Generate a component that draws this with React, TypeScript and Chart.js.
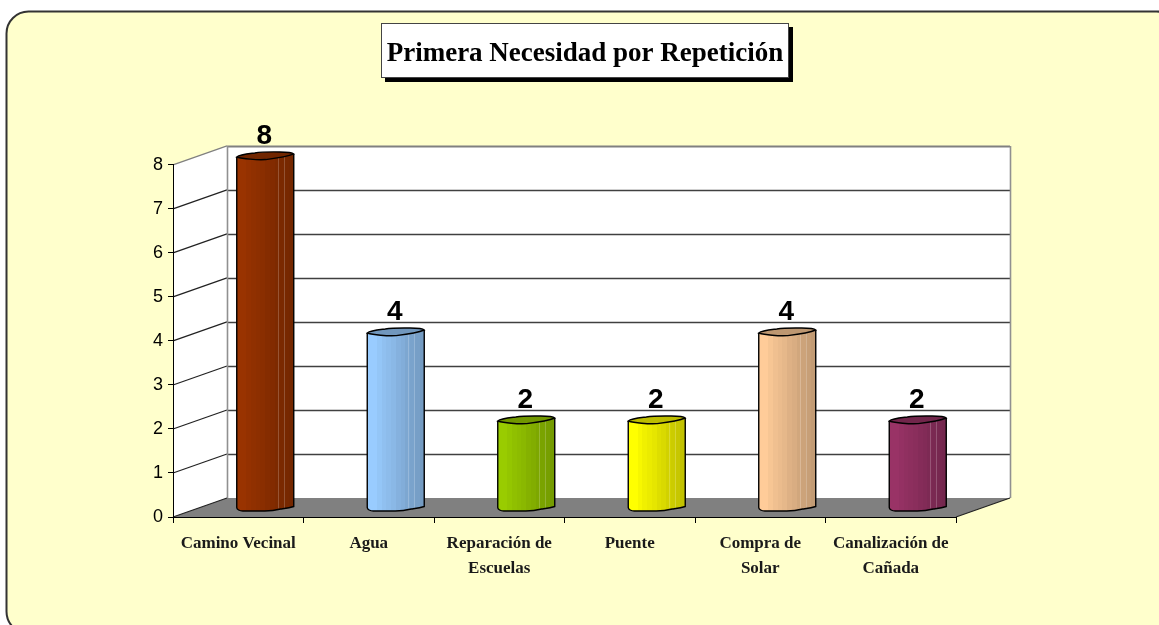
import React, { useEffect, useRef } from "react";
import { Chart, registerables } from "chart.js";

Chart.register(...registerables);

const categories: (string | string[])[] = [
  "Camino Vecinal",
  "Agua",
  ["Reparación de", "Escuelas"],
  "Puente",
  ["Compra de", "Solar"],
  ["Canalización de", "Cañada"],
];
const values = [8, 4, 2, 2, 4, 2];
const barColors = ["#993300", "#99ccff", "#99cc00", "#ffff00", "#ffcc99", "#993366"];
const titleText = "Primera Necesidad por Repetición";
const SERIF = '"Liberation Serif", serif';
const SANS = '"Liberation Sans", Arial, sans-serif';

const DEPTH_X = 54;
const DEPTH_Y = 19;
const BAR_DX = 27;
const BAR_DY = 7;

function shade(hex: string, f: number) {
  const n = parseInt(hex.slice(1), 16);
  const r = Math.round(((n >> 16) & 255) * f);
  const g = Math.round(((n >> 8) & 255) * f);
  const b = Math.round((n & 255) * f);
  return `rgb(${r},${g},${b})`;
}

const backdrop = {
  id: "backdrop",
  beforeDraw(chart: any) {
    const { ctx, chartArea: a, scales } = chart;
    const y = scales.y;
    ctx.save();
    // panel
    ctx.fillStyle = "#ffffcc";
    ctx.strokeStyle = "#333333";
    ctx.lineWidth = 2;
    ctx.beginPath();
    ctx.roundRect(6.5, 11.5, 1172, 622, 22);
    ctx.fill();
    ctx.stroke();
    // title box
    ctx.fillStyle = "#000";
    ctx.fillRect(385, 27, 408, 55);
    ctx.fillStyle = "#fff";
    ctx.strokeStyle = "#444";
    ctx.lineWidth = 1;
    ctx.fillRect(381, 23, 408, 55);
    ctx.strokeRect(381.5, 23.5, 407, 54);
    // walls
    const L = a.left, R = a.right, T = a.top, B = a.bottom;
    ctx.fillStyle = "#fff";
    ctx.beginPath();
    ctx.moveTo(L, T);
    ctx.lineTo(L + DEPTH_X, T - DEPTH_Y);
    ctx.lineTo(R + DEPTH_X, T - DEPTH_Y);
    ctx.lineTo(R + DEPTH_X, B - DEPTH_Y);
    ctx.lineTo(L, B);
    ctx.closePath();
    ctx.fill();
    // floor
    ctx.fillStyle = "#808080";
    ctx.beginPath();
    ctx.moveTo(L, B);
    ctx.lineTo(L + DEPTH_X, B - DEPTH_Y);
    ctx.lineTo(R + DEPTH_X, B - DEPTH_Y);
    ctx.lineTo(R, B);
    ctx.closePath();
    ctx.fill();
    // gridlines
    y.ticks.forEach((t: any, i: number) => {
      const py = y.getPixelForValue(t.value);
      const isTop = i === y.ticks.length - 1;
      const isZero = i === 0;
      if (!isZero) {
        ctx.lineWidth = 1.3;
        ctx.strokeStyle = isTop ? "#808080" : "#222";
        ctx.beginPath();
        ctx.moveTo(L, py);
        ctx.lineTo(L + DEPTH_X, py - DEPTH_Y);
        ctx.stroke();
        ctx.lineWidth = isTop ? 2 : 1.4;
        ctx.strokeStyle = isTop ? "#808080" : "#404040";
        ctx.beginPath();
        ctx.moveTo(L + DEPTH_X, py - DEPTH_Y + 0.5);
        ctx.lineTo(R + DEPTH_X, py - DEPTH_Y + 0.5);
        ctx.stroke();
      }
    });
    // wall edges
    ctx.strokeStyle = "#909090";
    ctx.lineWidth = 1.6;
    ctx.beginPath();
    ctx.moveTo(L + DEPTH_X + 0.5, T - DEPTH_Y);
    ctx.lineTo(L + DEPTH_X + 0.5, B - DEPTH_Y);
    ctx.moveTo(R + DEPTH_X + 0.5, T - DEPTH_Y);
    ctx.lineTo(R + DEPTH_X + 0.5, B - DEPTH_Y);
    ctx.stroke();
    ctx.strokeStyle = "#222";
    ctx.lineWidth = 1.2;
    ctx.beginPath();
    ctx.moveTo(L, B);
    ctx.lineTo(L + DEPTH_X, B - DEPTH_Y);
    ctx.moveTo(R, B);
    ctx.lineTo(R + DEPTH_X, B - DEPTH_Y);
    ctx.stroke();
    ctx.restore();
  },
};

const bands = [1, 1, 0.97, 0.94, 0.92, 0.9, 0.87, 0.85, 0.82, 0.8, 0.78, 0.76];

const cylinders = {
  id: "cylinders",
  beforeDatasetDraw(chart: any, args: any) {
    const { ctx } = chart;
    const meta = args.meta;
    ctx.save();
    meta.data.forEach((el: any, i: number) => {
      const w = el.width;
      const left = el.x - w / 2 + BAR_DX;
      const top = el.y - BAR_DY - 1;
      const bot = el.base - BAR_DY;
      const base = el.options.backgroundColor;
      const sx = w / 57;
      const X = (v: number) => left + v * sx;

      const grad = ctx.createLinearGradient(left, 0, left + w, 0);
      bands.forEach((f, k) => {
        grad.addColorStop(k / bands.length, shade(base, f));
        grad.addColorStop((k + 1) / bands.length, shade(base, f));
      });

      // body
      ctx.beginPath();
      ctx.moveTo(X(0), top);
      ctx.lineTo(X(57), top - 3);
      ctx.lineTo(X(57), bot - 3);
      ctx.bezierCurveTo(X(52), bot - 1.2, X(48), bot - 1, X(44), bot - 0.5);
      ctx.bezierCurveTo(X(38), bot + 1, X(34), bot + 1.5, X(28), bot + 1.5);
      ctx.lineTo(X(6), bot + 1.5);
      ctx.bezierCurveTo(X(3), bot + 1.5, X(0), bot, X(0), bot - 2);
      ctx.closePath();
      ctx.fillStyle = grad;
      ctx.fill();

      // highlights
      ctx.strokeStyle = "rgba(255,255,255,0.2)";
      ctx.lineWidth = 1;
      [41, 47].forEach((v) => {
        ctx.beginPath();
        ctx.moveTo(Math.round(X(v)) + 0.5, top);
        ctx.lineTo(Math.round(X(v)) + 0.5, bot - 1);
        ctx.stroke();
      });

      ctx.strokeStyle = "#000";
      ctx.lineWidth = 1.4;
      ctx.beginPath();
      ctx.moveTo(X(0), top);
      ctx.lineTo(X(0), bot - 2);
      ctx.bezierCurveTo(X(0), bot, X(3), bot + 1.5, X(6), bot + 1.5);
      ctx.lineTo(X(28), bot + 1.5);
      ctx.bezierCurveTo(X(34), bot + 1.5, X(38), bot + 1, X(44), bot - 0.5);
      ctx.bezierCurveTo(X(48), bot - 1, X(52), bot - 1.2, X(57), bot - 3);
      ctx.lineTo(X(57), top - 3);
      ctx.stroke();

      // top cap
      ctx.beginPath();
      ctx.moveTo(X(0), top);
      ctx.bezierCurveTo(X(6), top + 1.8, X(20), top + 3.2, X(29), top + 2.6);
      ctx.bezierCurveTo(X(38), top + 1.5, X(50), top, X(57), top - 3);
      ctx.bezierCurveTo(X(55), top - 5, X(48), top - 5, X(43), top - 5);
      ctx.bezierCurveTo(X(32), top - 5.2, X(24), top - 5, X(18), top - 4);
      ctx.bezierCurveTo(X(10), top - 3, X(3), top - 2.4, X(0), top);
      ctx.closePath();
      ctx.fillStyle = shade(base, 0.74);
      ctx.fill();
      ctx.stroke();

      // value label
      ctx.fillStyle = "#000";
      ctx.font = `bold 28px ${SANS}`;
      ctx.textAlign = "center";
      ctx.textBaseline = "alphabetic";
      ctx.fillText(String(values[i]), el.x + 26, el.y - 21);
    });
    ctx.restore();
    return false;
  },
};

const titlePlacer = {
  id: "titlePlacer",
  afterLayout(chart: any) {
    const t = chart.titleBlock;
    if (!t) return;
    t.left = 11;
    t.right = 1159;
    t.top = 39;
    t.bottom = 69;
  },
};

export default function App() {
  const ref = useRef<HTMLCanvasElement>(null);
  useEffect(() => {
    const chart = new Chart(ref.current as HTMLCanvasElement, {
      type: "bar",
      data: {
        labels: categories as any,
        datasets: [{ data: values, backgroundColor: barColors, barThickness: 57 }],
      },
      plugins: [backdrop, cylinders, titlePlacer],
      options: {
        animation: false,
        responsive: false,
        layout: { padding: { left: 0, right: 203, top: 135, bottom: 48 } },
        plugins: {
          legend: { display: false },
          tooltip: { enabled: false },
          title: {
            display: true,
            text: titleText,
            color: "#000",
            padding: 0,
            font: { family: SERIF, size: 27, weight: "bold", lineHeight: 1.11 },
          },
        },
        scales: {
          x: {
            afterFit: (s: any) => { s.height = 60; },
            border: { color: "#000", width: 1 },
            grid: { display: true, drawOnChartArea: false, drawTicks: true, tickLength: 6, color: "#000", offset: true },
            ticks: {
              color: "#1a1a1a",
              maxRotation: 0,
              autoSkip: false,
              padding: 8,
              font: { family: SERIF, size: 17, weight: "bold", lineHeight: 1.47 },
            },
          },
          y: {
            min: 0,
            max: 8,
            afterFit: (s: any) => { s.width = 173; },
            border: { color: "#000", width: 1 },
            grid: { display: true, drawOnChartArea: false, drawTicks: true, tickLength: 5, color: "#000" },
            ticks: {
              stepSize: 1,
              color: "#000",
              padding: 5,
              font: { family: SANS, size: 18 },
            },
          },
        },
      },
    } as any);
    return () => chart.destroy();
  }, []);
  return (
    <div style={{ position: "fixed", left: 0, top: 0, width: 1159, height: 625, background: "#fff", overflow: "hidden" }}>
      <canvas ref={ref} width={1159} height={625} style={{ display: "block" }} />
    </div>
  );
}
